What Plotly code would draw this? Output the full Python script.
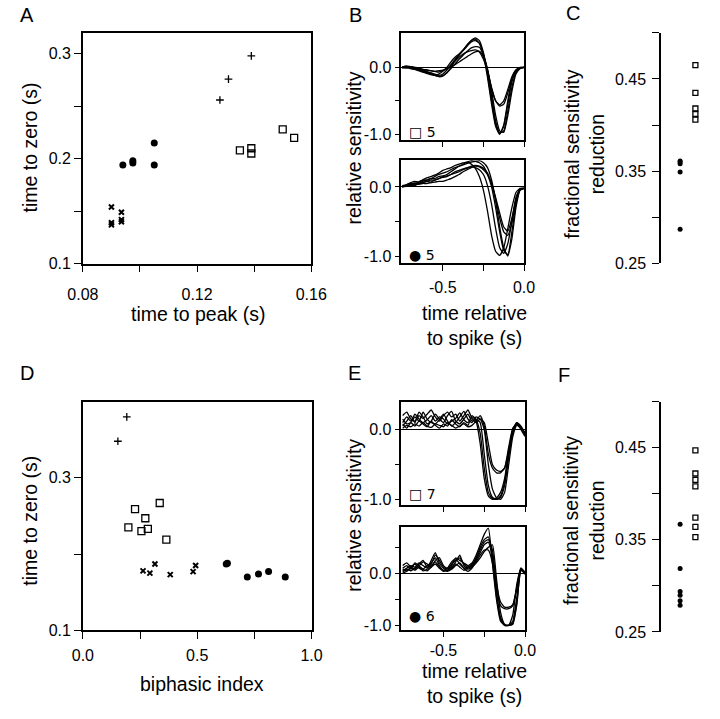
import plotly.graph_objects as go

# ---------------- data ----------------
# Panel A: time to peak (s) vs time to zero (s)
A_plus_x = [0.128, 0.131, 0.139]
A_plus_y = [0.256, 0.276, 0.298]
A_sq_x = [0.135, 0.139, 0.139, 0.150, 0.154]
A_sq_y = [0.208, 0.210, 0.205, 0.228, 0.220]
A_dot_x = [0.094, 0.0975, 0.0975, 0.105, 0.105]
A_dot_y = [0.194, 0.196, 0.198, 0.215, 0.194]
A_x_x = [0.090, 0.090, 0.090, 0.0935, 0.0935, 0.0935]
A_x_y = [0.154, 0.139, 0.137, 0.149, 0.142, 0.140]

# Panel D: biphasic index vs time to zero (s)
D_plus_x = [0.153, 0.192]
D_plus_y = [0.348, 0.380]
D_sq_x = [0.199, 0.228, 0.256, 0.273, 0.284, 0.336, 0.365]
D_sq_y = [0.235, 0.259, 0.230, 0.247, 0.233, 0.267, 0.219]
D_x_x = [0.263, 0.293, 0.315, 0.382, 0.482, 0.493]
D_x_y = [0.178, 0.175, 0.187, 0.173, 0.177, 0.185]
D_dot_x = [0.627, 0.632, 0.719, 0.768, 0.812, 0.885]
D_dot_y = [0.187, 0.188, 0.170, 0.174, 0.177, 0.170]

# Panels C and F: fractional sensitivity reduction
GROUP_POS = {"dot": 1, "sq": 2}
C_dot = [0.361, 0.360, 0.358, 0.349, 0.287]
C_sq = [0.465, 0.435, 0.418, 0.412, 0.406]
F_dot = [0.367, 0.319, 0.294, 0.290, 0.284, 0.279]
F_sq = [0.447, 0.422, 0.415, 0.408, 0.374, 0.364, 0.353]

# Panels B and E: relative sensitivity vs time relative to spike (s)
T = [-0.75, -0.725, -0.7, -0.675, -0.65, -0.625, -0.6, -0.575, -0.55, -0.525,
     -0.5, -0.475, -0.45, -0.425, -0.4, -0.375, -0.35, -0.325, -0.3, -0.275,
     -0.25, -0.225, -0.2, -0.175, -0.15, -0.125, -0.1, -0.075, -0.05, -0.025, 0.0]

B_top = [
    [0.00, 0.01, 0.00, -0.01, -0.03, -0.05, -0.07, -0.09, -0.11, -0.10, -0.06, 0.00, 0.08, 0.15, 0.20, 0.26,
     0.33, 0.40, 0.44, 0.40, 0.22, -0.10, -0.50, -0.85, -0.99, -0.88, -0.55, -0.22, -0.06, -0.01, 0.00],
    [0.01, 0.00, -0.02, -0.03, -0.05, -0.07, -0.09, -0.11, -0.12, -0.13, -0.12, -0.08, -0.02, 0.05, 0.12, 0.18,
     0.24, 0.29, 0.31, 0.30, 0.18, -0.05, -0.42, -0.80, -0.98, -0.95, -0.65, -0.30, -0.08, -0.01, 0.00],
    [0.00, -0.01, 0.01, 0.00, -0.02, -0.03, -0.04, -0.05, -0.06, -0.07, -0.05, -0.02, 0.03, 0.09, 0.15, 0.20,
     0.23, 0.25, 0.26, 0.23, 0.12, -0.05, -0.30, -0.50, -0.58, -0.55, -0.38, -0.17, -0.05, -0.01, 0.00],
    [0.00, 0.00, -0.01, -0.02, -0.04, -0.06, -0.08, -0.10, -0.12, -0.14, -0.13, -0.08, 0.00, 0.10, 0.18, 0.25,
     0.32, 0.38, 0.40, 0.36, 0.20, -0.05, -0.32, -0.50, -0.56, -0.50, -0.33, -0.14, -0.04, -0.01, 0.00],
    [0.00, 0.02, 0.01, 0.00, -0.01, -0.03, -0.04, -0.05, -0.06, -0.05, -0.04, -0.02, 0.01, 0.04, 0.08, 0.12,
     0.16, 0.20, 0.23, 0.24, 0.16, -0.02, -0.35, -0.72, -0.95, -0.97, -0.72, -0.36, -0.10, -0.02, 0.00],
    [-0.01, 0.00, 0.01, -0.01, -0.02, -0.04, -0.06, -0.08, -0.10, -0.12, -0.10, -0.04, 0.04, 0.12, 0.19, 0.26,
     0.34, 0.40, 0.42, 0.36, 0.18, -0.15, -0.55, -0.88, -1.00, -0.86, -0.50, -0.18, -0.04, 0.00, 0.00],
]

B_bot = [
    [0.00, 0.03, 0.05, 0.04, 0.07, 0.10, 0.10, 0.12, 0.15, 0.18, 0.20, 0.22, 0.25, 0.28, 0.30, 0.33,
     0.36, 0.38, 0.37, 0.35, 0.30, 0.18, 0.00, -0.30, -0.65, -0.92, -0.98, -0.65, -0.25, -0.04, -0.02],
    [0.01, 0.02, 0.03, 0.05, 0.04, 0.06, 0.08, 0.07, 0.10, 0.12, 0.14, 0.15, 0.18, 0.20, 0.22, 0.25,
     0.27, 0.30, 0.31, 0.30, 0.27, 0.20, 0.05, -0.15, -0.38, -0.58, -0.64, -0.45, -0.18, -0.03, -0.02],
    [0.02, 0.03, 0.06, 0.08, 0.07, 0.10, 0.13, 0.15, 0.17, 0.20, 0.24, 0.26, 0.28, 0.31, 0.33, 0.35,
     0.36, 0.33, 0.27, 0.15, -0.05, -0.35, -0.70, -0.93, -0.99, -0.88, -0.60, -0.30, -0.08, -0.02, -0.02],
    [0.00, 0.01, 0.02, 0.03, 0.04, 0.05, 0.05, 0.06, 0.07, 0.08, 0.08, 0.10, 0.12, 0.15, 0.18, 0.22,
     0.25, 0.28, 0.30, 0.29, 0.25, 0.18, 0.05, -0.18, -0.45, -0.65, -0.70, -0.52, -0.22, -0.04, -0.02],
    [0.01, 0.02, 0.04, 0.06, 0.05, 0.08, 0.10, 0.12, 0.12, 0.15, 0.16, 0.18, 0.22, 0.26, 0.30, 0.32,
     0.34, 0.36, 0.37, 0.38, 0.35, 0.28, 0.10, -0.20, -0.58, -0.88, -1.00, -0.75, -0.30, -0.05, -0.02],
    [0.00, 0.02, 0.03, 0.02, 0.05, 0.06, 0.08, 0.10, 0.10, 0.12, 0.15, 0.16, 0.18, 0.22, 0.24, 0.26,
     0.28, 0.29, 0.28, 0.25, 0.18, 0.02, -0.25, -0.60, -0.88, -0.96, -0.82, -0.50, -0.15, -0.03, -0.02],
]

E_top = [
    [0.10, 0.18, 0.12, 0.22, 0.15, 0.10, 0.14, 0.20, 0.12, 0.18, 0.15, 0.08, 0.12, 0.16, 0.24, 0.14,
     0.10, 0.18, 0.12, -0.20, -0.70, -0.95, -1.00, -0.98, -0.90, -0.70, -0.30, 0.00, 0.10, 0.05, -0.05],
    [0.05, 0.12, 0.20, 0.10, 0.25, 0.18, 0.08, 0.12, 0.22, 0.15, 0.10, 0.20, 0.26, 0.12, 0.08, 0.15,
     0.22, 0.12, 0.15, 0.10, -0.35, -0.80, -0.97, -1.00, -0.97, -0.80, -0.40, -0.05, 0.08, 0.03, -0.08],
    [0.15, 0.08, 0.10, 0.18, 0.12, 0.25, 0.15, 0.10, 0.08, 0.14, 0.22, 0.12, 0.05, 0.10, 0.18, 0.26,
     0.15, 0.10, 0.18, 0.15, 0.10, -0.20, -0.50, -0.58, -0.60, -0.55, -0.30, -0.02, 0.10, 0.02, -0.05],
    [0.02, 0.06, 0.04, 0.08, 0.05, 0.10, 0.05, 0.03, 0.08, 0.06, 0.04, 0.10, 0.06, 0.02, 0.05, 0.08,
     0.04, 0.06, 0.12, 0.20, 0.05, -0.35, -0.55, -0.62, -0.62, -0.55, -0.25, 0.02, 0.08, 0.00, -0.10],
    [0.20, 0.25, 0.15, 0.12, 0.20, 0.16, 0.22, 0.28, 0.18, 0.12, 0.20, 0.25, 0.18, 0.22, 0.12, 0.20,
     0.28, 0.16, 0.10, 0.15, 0.00, -0.50, -0.85, -0.98, -1.00, -0.90, -0.50, -0.10, 0.06, 0.02, -0.05],
    [0.08, 0.02, 0.10, 0.05, 0.12, 0.08, 0.04, 0.12, 0.06, 0.02, 0.08, 0.05, 0.14, 0.08, 0.04, 0.10,
     0.06, 0.20, 0.14, -0.05, -0.55, -0.90, -0.99, -1.00, -0.95, -0.75, -0.35, -0.02, 0.09, 0.03, -0.06],
]

E_bot = [
    [0.05, 0.10, 0.15, 0.12, 0.20, 0.15, 0.10, 0.25, 0.40, 0.20, 0.10, 0.05, 0.15, 0.30, 0.25, 0.20,
     0.15, 0.20, 0.35, 0.55, 0.75, 0.87, 0.20, -0.50, -0.92, -1.00, -1.00, -0.80, -0.20, 0.10, 0.00],
    [0.08, 0.05, 0.12, 0.18, 0.10, 0.08, 0.15, 0.20, 0.30, 0.15, 0.05, 0.10, 0.22, 0.28, 0.18, 0.10,
     0.12, 0.18, 0.28, 0.45, 0.60, 0.65, 0.45, -0.20, -0.55, -0.65, -0.65, -0.60, -0.30, 0.08, 0.02],
    [0.10, 0.15, 0.08, 0.20, 0.15, 0.22, 0.18, 0.12, 0.25, 0.30, 0.15, 0.10, 0.12, 0.22, 0.35, 0.15,
     0.08, 0.12, 0.20, 0.30, 0.42, 0.50, 0.55, -0.10, -0.75, -0.98, -1.00, -0.98, -0.60, 0.05, 0.02],
    [0.02, 0.08, 0.05, 0.10, 0.14, 0.08, 0.05, 0.12, 0.18, 0.10, 0.04, 0.06, 0.10, 0.18, 0.12, 0.06,
     0.10, 0.14, 0.30, 0.50, 0.65, 0.70, 0.35, -0.30, -0.62, -0.68, -0.68, -0.62, -0.25, 0.10, 0.00],
    [0.15, 0.20, 0.12, 0.08, 0.18, 0.25, 0.12, 0.18, 0.35, 0.25, 0.12, 0.08, 0.18, 0.25, 0.30, 0.18,
     0.12, 0.15, 0.22, 0.35, 0.45, 0.45, 0.20, -0.45, -0.88, -0.99, -1.00, -0.92, -0.45, 0.08, 0.02],
    [0.00, 0.04, 0.10, 0.06, 0.12, 0.05, 0.08, 0.15, 0.22, 0.12, 0.06, 0.04, 0.08, 0.15, 0.20, 0.10,
     0.04, 0.10, 0.25, 0.40, 0.55, 0.60, 0.30, -0.35, -0.85, -1.00, -1.00, -0.96, -0.55, 0.06, -0.02],
]

# ---------------- layout helpers ----------------
W, H = 720, 719
FONT = "Liberation Sans, Arial, Helvetica, sans-serif"
TICKF = dict(family=FONT, size=16, color="black")


def dxp(a, b):
    return [a / W, b / W]


def dyp(top, bottom):
    return [1 - bottom / H, 1 - top / H]


def axis(domain, rng, tickvals=None, ticktext=None, anchor=None, mirror=True,
         showline=True, visible=True, zeroline=False, ticklen=6, standoff=0):
    d = dict(domain=domain, range=rng, showgrid=False, zeroline=zeroline,
             zerolinecolor="black", zerolinewidth=1,
             showline=showline, linecolor="black", linewidth=1.5, mirror=mirror,
             ticks="outside" if tickvals is not None else "", ticklen=ticklen, tickwidth=1.3,
             tickcolor="black", tickfont=TICKF, fixedrange=True, visible=visible,
             ticklabelstandoff=standoff)
    if tickvals is not None:
        d["tickmode"] = "array"
        d["tickvals"] = tickvals
        d["ticktext"] = ticktext
    else:
        d["showticklabels"] = False
    if anchor:
        d["anchor"] = anchor
    return d


fig = go.Figure()

MK = {
    "dot": dict(symbol="circle", size=7, color="black"),
    "sq": dict(symbol="square-open", size=7, color="black", line=dict(width=1.3, color="black")),
    "x": dict(symbol="x-thin", size=5, color="black", line=dict(width=2, color="black")),
    "plus": dict(symbol="cross-thin", size=5.5, color="black", line=dict(width=1.3, color="black")),
}


def pts(x, y, kind, xa, ya, size=None):
    m = dict(MK[kind])
    if size:
        m["size"] = size
    fig.add_trace(go.Scatter(x=x, y=y, mode="markers", marker=m, xaxis=xa, yaxis=ya,
                             showlegend=False, hoverinfo="skip"))


# Panel A
pts(A_plus_x, A_plus_y, "plus", "x", "y")
pts(A_sq_x, A_sq_y, "sq", "x", "y")
pts(A_dot_x, A_dot_y, "dot", "x", "y")
pts(A_x_x, A_x_y, "x", "x", "y")

# Panel D
pts(D_plus_x, D_plus_y, "plus", "x5", "y5")
pts(D_sq_x, D_sq_y, "sq", "x5", "y5")
pts(D_x_x, D_x_y, "x", "x5", "y5")
pts(D_dot_x, D_dot_y, "dot", "x5", "y5")

# Panels C, F
pts([GROUP_POS["dot"]] * len(C_dot), C_dot, "dot", "x4", "y4", size=5)
pts([GROUP_POS["sq"]] * len(C_sq), C_sq, "sq", "x4", "y4", size=5)
pts([GROUP_POS["dot"]] * len(F_dot), F_dot, "dot", "x8", "y8", size=5)
pts([GROUP_POS["sq"]] * len(F_sq), F_sq, "sq", "x8", "y8", size=5)


def traces(curves, xa, ya):
    for c in curves:
        fig.add_trace(go.Scatter(x=T, y=c, mode="lines",
                                 line=dict(color="black", width=1.3, shape="spline", smoothing=0.5),
                                 xaxis=xa, yaxis=ya, showlegend=False, hoverinfo="skip"))


traces(B_top, "x2", "y2")
traces(B_bot, "x3", "y3")
traces(E_top, "x6", "y6")
traces(E_bot, "x7", "y7")

tx_time = [-0.5, -0.25, 0.0]
tt_time = ["-0.5", "", "0.0"]

fig.update_layout(
    width=W, height=H, margin=dict(l=0, r=0, t=0, b=0),
    paper_bgcolor="white", plot_bgcolor="white",
    font=dict(family=FONT, color="black"),
    showlegend=False,
    # A
    xaxis=axis(dxp(70, 309), [0.08, 0.16], [0.08, 0.10, 0.12, 0.14, 0.16],
               ["0.08", "", "0.12", "", "0.16"], anchor="y", ticklen=7, standoff=8),
    yaxis=axis(dyp(33.3, 267), [0.1, 0.32], [0.1, 0.15, 0.2, 0.25, 0.3],
               ["0.1", "", "0.2", "", "0.3"], anchor="x", ticklen=7),
    # B top
    xaxis2=axis(dxp(403.3, 531.7), [-0.755, 0.0], tx_time, ["", "", ""], anchor="y2", ticklen=5),
    yaxis2=axis(dyp(33.3, 141.7), [-1.085, 0.515], [-1.0, -0.5, 0.0], ["-1.0", "", "0.0"],
                anchor="x2", zeroline=True, ticklen=5),
    # B bottom
    xaxis3=axis(dxp(403.3, 531.7), [-0.755, 0.0], tx_time, tt_time, anchor="y3",
                ticklen=6, standoff=3),
    yaxis3=axis(dyp(162.3, 266.7), [-1.106, 0.386], [-1.0, -0.5, 0.0], ["-1.0", "", "0.0"],
                anchor="x3", zeroline=True, ticklen=5),
    # C
    xaxis4=axis(dxp(675, 720), [-0.25, 2.5625], anchor="y4", showline=False, mirror=False),
    yaxis4=axis(dyp(33.3, 266.7), [0.25, 0.50], [0.25, 0.30, 0.35, 0.40, 0.45, 0.50],
                ["0.25", "", "0.35", "", "0.45", ""], anchor="x4", mirror=False,
                ticklen=7, standoff=3),
    # D
    xaxis5=axis(dxp(70, 309.3), [0.0, 1.0], [0.0, 0.25, 0.5, 0.75, 1.0],
                ["0.0", "", "0.5", "", "1.0"], anchor="y5", ticklen=7, standoff=3),
    yaxis5=axis(dyp(406.7, 638.3), [0.1, 0.4], [0.1, 0.2, 0.3], ["0.1", "", "0.3"],
                anchor="x5", ticklen=7),
    # E top
    xaxis6=axis(dxp(403.3, 532.7), [-0.758, 0.0], tx_time, ["", "", ""], anchor="y6", ticklen=5),
    yaxis6=axis(dyp(406.7, 511.7), [-1.085, 0.40], [-1.0, -0.5, 0.0], ["-1.0", "", "0.0"],
                anchor="x6", zeroline=True, ticklen=5),
    # E bottom
    xaxis7=axis(dxp(403.3, 532.7), [-0.758, 0.0], tx_time, tt_time, anchor="y7", ticklen=5),
    yaxis7=axis(dyp(534, 638), [-1.09, 0.886], [-1.0, -0.5, 0.0, 0.5], ["-1.0", "", "0.0", ""],
                anchor="x7", zeroline=True, ticklen=5),
    # F
    xaxis8=axis(dxp(675, 720), [-0.25, 2.5625], anchor="y8", showline=False, mirror=False),
    yaxis8=axis(dyp(406.7, 640), [0.25, 0.50], [0.25, 0.30, 0.35, 0.40, 0.45, 0.50],
                ["0.25", "", "0.35", "", "0.45", ""], anchor="x8", mirror=False,
                ticklen=7, standoff=3),
)


def note(text, px, py, size=19.5, angle=0, xanchor="center", yanchor="middle", family=FONT):
    fig.add_annotation(text=text, x=px / W, y=1 - py / H, xref="paper", yref="paper",
                       showarrow=False, textangle=angle, xanchor=xanchor, yanchor=yanchor,
                       font=dict(family=family, size=size, color="black"))


# panel letters
for letter, px, py in [("A", 11, 15), ("B", 355, 15), ("C", 583, 13),
                       ("D", 11, 378), ("E", 354, 378), ("F", 573, 380)]:
    note(letter, px, py, size=20)

# axis titles
note("time to zero (s)", 15, 149, angle=-90)
note("time to zero (s)", 15, 527, angle=-90)
note("time to peak (s)", 190, 318)
note("biphasic index", 195, 693)
note("relative sensitivity", 354, 150, angle=-90)
note("relative sensitivity", 354, 522, angle=-90)
note("time relative<br>to spike (s)", 480, 330)
note("time relative<br>to spike (s)", 480, 692)
note("fractional sensitivity<br>reduction", 594, 156, angle=-90)
note("fractional sensitivity<br>reduction", 594, 527, angle=-90)

# group labels inside trace panels
note("\u25a1 5", 409, 134, size=14, xanchor="left", family="DejaVu Sans")
note("\u25cf 5", 409, 258, size=14, xanchor="left", family="DejaVu Sans")
note("\u25a1 7", 409, 500, size=14, xanchor="left", family="DejaVu Sans")
note("\u25cf 6", 409, 624, size=14, xanchor="left", family="DejaVu Sans")

fig.write_html(
    "out.html",
    config={"displayModeBar": False},
    post_script="document.body.style.margin='0px';document.body.style.padding='0px';"
                "document.body.style.overflow='hidden';",
)
